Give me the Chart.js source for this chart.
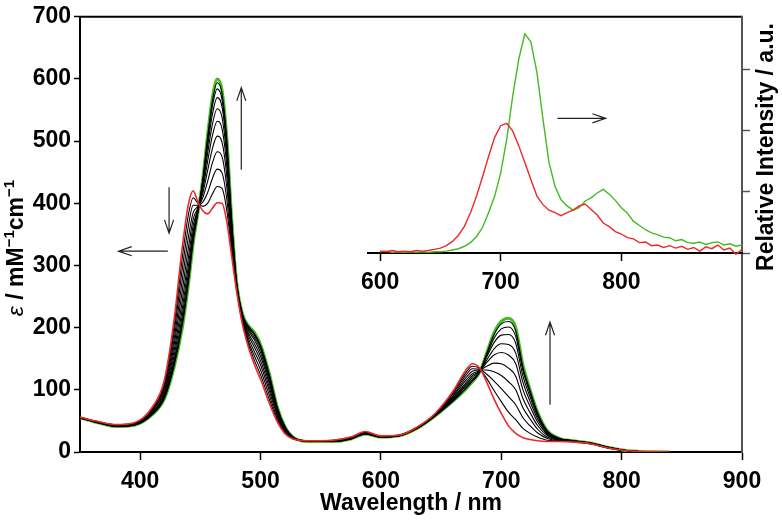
<!DOCTYPE html>
<html>
<head>
<meta charset="utf-8">
<title>Absorption titration and emission spectra</title>
<script src="https://cdn.jsdelivr.net/npm/chart.js"></script>
<style>
  html, body { margin: 0; padding: 0; background: #fff; }
  #wrap { position: relative; width: 782px; height: 524px; }
  #wrap canvas { position: absolute; left: 0; top: 0; }
</style>
</head>
<body>
<div id="wrap">
  <canvas id="main-chart" width="782" height="524"></canvas>
  <canvas id="inset-chart" width="782" height="524"></canvas>
</div>

<script>
// ---- absorption (main plot), epsilon in mM-1 cm-1 ----
const wavelengths = [350, 365, 380, 395, 410, 420, 428, 435, 440, 444, 448, 452, 456, 460, 464, 468, 472, 476, 480, 485,
  490, 495, 500, 507, 514, 520, 527, 540, 560, 575, 587, 600, 615, 630, 645, 660, 670, 676, 682, 688,
  694, 700, 706, 712, 718, 724, 730, 738, 748, 760, 775, 790, 805, 840];

// first spectrum (red)
const absStart = [56, 49, 44, 47, 72, 115, 210, 330, 398, 420, 402, 388, 383, 392, 401, 400, 370, 315, 260, 205,
  168, 140, 117, 80, 48, 30, 21, 18, 19, 24, 33, 26, 27, 40, 62, 98, 130, 142, 135, 112,
  85, 62, 42, 30, 23, 20, 18, 17, 17, 16, 13, 6, 2, 0];

// last spectrum (green)
const absEnd = [55, 47, 41, 43, 60, 85, 135, 200, 268, 335, 385, 440, 510, 570, 600, 582, 505, 375, 275, 222,
  203, 192, 173, 128, 72, 42, 24, 17, 17, 21, 29, 24, 26, 38, 58, 82, 100, 113, 128, 160,
  192, 210, 215, 200, 140, 100, 65, 35, 22, 18, 14, 7, 2, 0];

// intermediate spectra (black)
const absSteps = [
  [56, 49, 44, 46, 70, 111, 200, 313, 381, 409, 400, 395, 400, 415, 427, 424, 388, 323, 262, 207, 173, 147, 124, 86, 51, 32, 21, 18, 19, 24, 32, 26, 27, 40, 61, 96, 126, 138, 134, 118, 99, 81, 64, 52, 38, 30, 24, 19, 18, 16, 13, 6, 2, 0],
  [56, 48, 43, 46, 69, 107, 190, 295, 363, 397, 397, 402, 417, 440, 455, 449, 406, 331, 264, 210, 177, 154, 132, 93, 54, 33, 22, 18, 18, 23, 32, 25, 27, 39, 61, 94, 122, 134, 133, 125, 114, 102, 89, 76, 55, 42, 31, 22, 18, 17, 13, 6, 2, 0],
  [56, 48, 43, 45, 67, 103, 179, 277, 345, 385, 395, 409, 435, 465, 483, 475, 425, 340, 266, 212, 182, 161, 140, 100, 58, 35, 22, 18, 18, 23, 31, 25, 27, 39, 60, 91, 118, 130, 132, 132, 129, 123, 113, 100, 71, 53, 37, 24, 19, 17, 13, 6, 2, 0],
  [55, 48, 42, 45, 66, 99, 170, 260, 328, 374, 393, 416, 452, 488, 508, 498, 443, 347, 268, 214, 187, 168, 147, 106, 61, 36, 23, 17, 18, 22, 31, 25, 26, 39, 60, 89, 114, 126, 131, 138, 143, 142, 135, 122, 86, 63, 43, 27, 20, 17, 14, 7, 2, 0],
  [55, 48, 42, 44, 64, 95, 161, 244, 312, 364, 391, 422, 467, 509, 532, 520, 459, 355, 270, 216, 191, 174, 154, 112, 64, 38, 23, 17, 18, 22, 30, 25, 26, 39, 59, 87, 110, 123, 130, 144, 156, 160, 156, 142, 100, 73, 49, 29, 20, 17, 14, 7, 2, 0],
  [55, 47, 42, 44, 63, 92, 153, 231, 299, 355, 389, 428, 480, 527, 552, 538, 473, 361, 271, 218, 195, 180, 160, 116, 66, 39, 23, 17, 17, 22, 30, 24, 26, 38, 59, 86, 107, 120, 130, 148, 166, 174, 173, 159, 112, 81, 54, 31, 21, 18, 14, 7, 2, 0],
  [55, 47, 41, 44, 62, 90, 146, 220, 288, 348, 388, 432, 491, 543, 570, 555, 485, 366, 273, 219, 198, 184, 165, 121, 68, 40, 24, 17, 17, 21, 30, 24, 26, 38, 59, 84, 105, 117, 129, 153, 176, 188, 189, 175, 122, 88, 58, 32, 21, 18, 14, 7, 2, 0],
  [55, 47, 41, 43, 61, 87, 141, 210, 278, 342, 386, 436, 500, 556, 584, 567, 494, 370, 274, 221, 200, 188, 169, 124, 70, 41, 24, 17, 17, 21, 29, 24, 26, 38, 58, 83, 102, 115, 129, 156, 183, 198, 201, 186, 131, 94, 61, 34, 22, 18, 14, 7, 2, 0],
  [55, 47, 41, 43, 60, 86, 137, 204, 272, 338, 386, 438, 506, 565, 594, 577, 501, 373, 275, 221, 202, 190, 171, 127, 71, 42, 24, 17, 17, 21, 29, 24, 26, 38, 58, 82, 101, 114, 128, 159, 189, 206, 210, 195, 136, 98, 64, 34, 22, 18, 14, 7, 2, 0]
];

// ---- emission (inset), relative intensity ----
const emWavelengths = [600, 605, 610, 615, 620, 625, 630, 635, 640, 645, 650, 655, 660, 665, 670, 675, 680, 685, 690, 695,
  700, 705, 710, 715, 720, 725, 730, 735, 740, 745, 750, 755, 760, 765, 770, 775, 780, 785, 790, 795,
  800, 805, 810, 815, 820, 825, 830, 835, 840, 845, 850, 855, 860, 865, 870, 875, 880, 885, 890, 895, 900];

const emStart = [0.03, 0.02, 0.04, 0.02, 0.03, 0.02, 0.04, 0.03, 0.04, 0.06, 0.08, 0.12, 0.19, 0.29, 0.44, 0.66, 0.93, 1.25, 1.58, 1.89,
  2.08, 2.12, 1.99, 1.75, 1.48, 1.20, 0.93, 0.79, 0.70, 0.66, 0.61, 0.66, 0.70, 0.77, 0.80, 0.71, 0.62, 0.49, 0.43, 0.35,
  0.31, 0.25, 0.23, 0.17, 0.18, 0.12, 0.13, 0.09, 0.12, 0.08, 0.11, 0.06, 0.09, 0.03, 0.10, 0.07, 0.13, 0.05, 0.08, -0.02, 0.06];

const emEnd = [0.02, 0.03, 0.01, 0.02, 0.01, 0.02, 0.01, 0.02, 0.01, 0.02, 0.02, 0.03, 0.05, 0.07, 0.11, 0.17, 0.27, 0.42, 0.66, 0.93,
  1.31, 1.86, 2.57, 3.17, 3.58, 3.45, 2.95, 2.19, 1.48, 1.09, 0.87, 0.77, 0.70, 0.74, 0.85, 0.90, 0.98, 1.04, 0.96, 0.86,
  0.74, 0.65, 0.52, 0.45, 0.38, 0.33, 0.30, 0.26, 0.25, 0.20, 0.22, 0.17, 0.16, 0.18, 0.14, 0.17, 0.18, 0.13, 0.15, 0.11, 0.13];

// ---- ticks ----
const xTickValues = [400, 500, 600, 700, 800, 900];
const yTickValues = [0, 100, 200, 300, 400, 500, 600, 700];
const insetXTickValues = [600, 700, 800];
const insetYTickValues = [0, 1, 2, 3];

// ---- arrows, in data units [wavelength, value] ----
const absArrows = [
  { from: [484, 454], to: [484, 586] },
  { from: [424, 426], to: [424, 352] },
  { from: [423, 323], to: [382, 323] },
  { from: [740.5, 76], to: [740.5, 209] }
];
const emArrows = [
  { from: [747, 2.2], to: [787, 2.2] }
];

const FONT = '"Liberation Sans", Arial, sans-serif';
const RED = '#f0282a';
const GREEN = '#44bb22';

Chart.defaults.font.family = FONT;
Chart.defaults.color = '#000';

function toPoints(xs, ys) {
  return xs.map((x, i) => ({ x: x, y: ys[i] }));
}

function drawArrow(ctx, x1, y1, x2, y2) {
  const ang = Math.atan2(y2 - y1, x2 - x1);
  const len = 14, spread = 0.33;
  ctx.beginPath();
  ctx.moveTo(x1, y1);
  ctx.lineTo(x2, y2);
  ctx.moveTo(x2 - len * Math.cos(ang - spread), y2 - len * Math.sin(ang - spread));
  ctx.lineTo(x2, y2);
  ctx.lineTo(x2 - len * Math.cos(ang + spread), y2 - len * Math.sin(ang + spread));
  ctx.stroke();
}

// draws a rotated line of text made of several font runs
function drawRich(ctx, segs, cx, cy) {
  ctx.save();
  ctx.translate(cx, cy);
  ctx.rotate(-Math.PI / 2);
  ctx.textBaseline = 'middle';
  ctx.textAlign = 'left';
  let total = 0;
  segs.forEach(s => { ctx.font = s.font; total += ctx.measureText(s.text).width; });
  let x = -total / 2;
  segs.forEach(s => {
    ctx.font = s.font;
    ctx.fillText(s.text, x, s.dy || 0);
    x += ctx.measureText(s.text).width;
  });
  ctx.restore();
}

const mainDecor = {
  id: 'mainDecor',
  afterDraw(chart) {
    const { ctx, chartArea: a, scales } = chart;
    ctx.save();
    ctx.lineWidth = 2;
    ctx.strokeStyle = '#000';
    ctx.beginPath(); ctx.moveTo(a.left - 1, a.top); ctx.lineTo(a.right, a.top); ctx.stroke();
    ctx.strokeStyle = '#555';
    ctx.beginPath(); ctx.moveTo(a.right, a.top - 1); ctx.lineTo(a.right, a.bottom + 1); ctx.stroke();

    ctx.strokeStyle = '#222';
    ctx.lineWidth = 1.2;
    absArrows.forEach(ar => drawArrow(ctx,
      scales.x.getPixelForValue(ar.from[0]), scales.y.getPixelForValue(ar.from[1]),
      scales.x.getPixelForValue(ar.to[0]), scales.y.getPixelForValue(ar.to[1])));

    ctx.fillStyle = '#000';
    ctx.font = 'bold 23px ' + FONT;
    ctx.textAlign = 'center';
    ctx.textBaseline = 'middle';
    ctx.fillText('Wavelength / nm', (a.left + a.right) / 2, 504);

    drawRich(ctx, [
      { text: 'ε', font: 'italic 23px ' + FONT },
      { text: ' / mM', font: 'bold 23px ' + FONT },
      { text: '−1', font: 'bold 15px ' + FONT, dy: -7 },
      { text: 'cm', font: 'bold 23px ' + FONT },
      { text: '−1', font: 'bold 15px ' + FONT, dy: -7 }
    ], 17, 248);

    drawRich(ctx, [{ text: 'Relative Intensity / a.u.', font: 'bold 23px ' + FONT }], 767, 147);
    ctx.restore();
  }
};

const insetDecor = {
  id: 'insetDecor',
  afterDraw(chart) {
    const { ctx, scales } = chart;
    ctx.save();
    ctx.strokeStyle = '#222';
    ctx.lineWidth = 1.2;
    emArrows.forEach(ar => drawArrow(ctx,
      scales.x.getPixelForValue(ar.from[0]), scales.y.getPixelForValue(ar.from[1]),
      scales.x.getPixelForValue(ar.to[0]), scales.y.getPixelForValue(ar.to[1])));
    ctx.restore();
  }
};

const tickFont = { size: 23, weight: 'bold', family: FONT };

// main absorption chart
const absDatasets = [
  { data: toPoints(wavelengths, absStart), borderColor: RED, borderWidth: 1.6, order: 0 }
];
absSteps.forEach(s => absDatasets.push({ data: toPoints(wavelengths, s), borderColor: '#000', borderWidth: 1.1, order: 1 }));
absDatasets.push({ data: toPoints(wavelengths, absEnd), borderColor: GREEN, borderWidth: 3, order: 2 });
absDatasets.forEach(d => { d.pointRadius = 0; d.cubicInterpolationMode = 'monotone'; d.fill = false; });

new Chart(document.getElementById('main-chart'), {
  type: 'line',
  data: { datasets: absDatasets },
  options: {
    responsive: false,
    animation: false,
    events: [],
    layout: { padding: { top: 10, right: 40, left: 0, bottom: 0 } },
    plugins: { legend: { display: false }, tooltip: { enabled: false } },
    scales: {
      x: {
        type: 'linear', min: 350, max: 900,
        afterBuildTicks: s => { s.ticks = xTickValues.map(v => ({ value: v })); },
        afterFit: s => { s.height = 72; },
        ticks: { font: tickFont, padding: 8, maxRotation: 0, color: '#000' },
        grid: { drawOnChartArea: false, tickLength: 8, color: '#000', tickWidth: 1.5 },
        border: { display: true, color: '#000', width: 2 }
      },
      y: {
        min: 0, max: 700,
        afterBuildTicks: s => { s.ticks = yTickValues.map(v => ({ value: v })); },
        afterFit: s => { s.width = 80; },
        ticks: { font: tickFont, padding: 3, color: '#000' },
        grid: { drawOnChartArea: false, tickLength: 6, color: '#000', tickWidth: 1.5 },
        border: { display: true, color: '#000', width: 2 }
      }
    }
  },
  plugins: [mainDecor]
});

// inset emission chart
new Chart(document.getElementById('inset-chart'), {
  type: 'line',
  data: {
    datasets: [
      { data: toPoints(emWavelengths, emStart), borderColor: RED, borderWidth: 1.4, order: 0 },
      { data: toPoints(emWavelengths, emEnd), borderColor: GREEN, borderWidth: 1.4, order: 1 }
    ].map(d => Object.assign(d, { pointRadius: 0, tension: 0, fill: false, clip: false }))
  },
  options: {
    responsive: false,
    animation: false,
    events: [],
    layout: { padding: { top: 10, right: 40, left: 368, bottom: 0 } },
    plugins: { legend: { display: false }, tooltip: { enabled: false } },
    scales: {
      x: {
        type: 'linear', min: 590, max: 900,
        afterBuildTicks: s => { s.ticks = insetXTickValues.map(v => ({ value: v })); },
        afterFit: s => { s.height = 271; },
        ticks: { font: tickFont, padding: 8, maxRotation: 0, color: '#000' },
        grid: { drawOnChartArea: false, tickLength: 8, color: '#000', tickWidth: 1.5 },
        border: { display: true, color: '#000', width: 2 }
      },
      y: {
        position: 'right',
        min: 0, max: 3.97,
        afterBuildTicks: s => { s.ticks = insetYTickValues.map(v => ({ value: v })); },
        afterFit: s => { s.width = 0; },
        ticks: { display: false },
        grid: { drawOnChartArea: false, tickLength: 8, color: '#555', tickWidth: 1.5 },
        border: { display: false }
      }
    }
  },
  plugins: [insetDecor]
});
</script>
</body>
</html>
